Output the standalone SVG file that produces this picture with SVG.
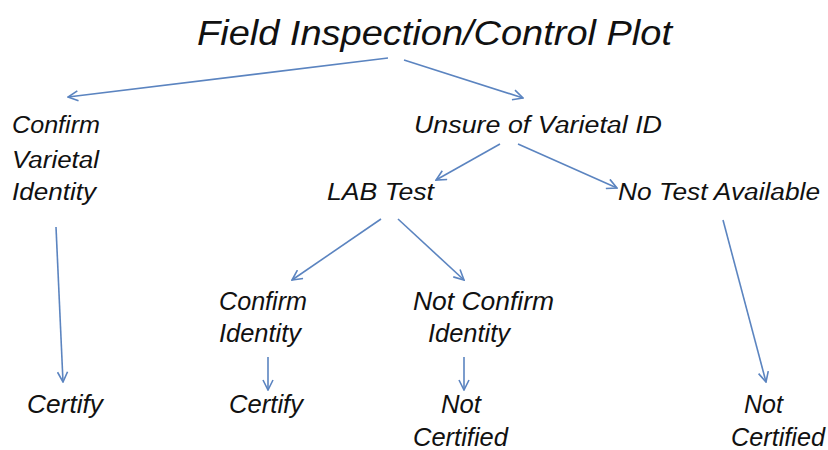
<svg xmlns="http://www.w3.org/2000/svg" width="828" height="450" viewBox="0 0 828 450">
<style>
text{font-family:"Liberation Sans",Arial,sans-serif;font-style:italic;fill:#111;font-size:23px}
.t{font-size:35px}
.s{font-size:25px}
.c line{stroke:#5b84c0;stroke-width:1.6;fill:none;marker-end:url(#ah)}
</style>
<defs>
<marker id="ah" viewBox="0 0 12 12" refX="11" refY="6" markerWidth="12" markerHeight="12" markerUnits="userSpaceOnUse" orient="auto">
<path d="M1,1 L11,6 L1,11" fill="none" stroke="#5b84c0" stroke-width="1.6"/>
</marker>
</defs>
<rect width="828" height="450" fill="#fff"/>
<g id="title"><text class="t" x="197" y="45" textLength="475" lengthAdjust="spacingAndGlyphs">Field Inspection/Control Plot</text></g>
<g id="confirmVarietal">
<text x="12" y="133" textLength="88" lengthAdjust="spacingAndGlyphs">Confirm</text>
<text x="12" y="168" textLength="87" lengthAdjust="spacingAndGlyphs">Varietal</text>
<text x="12" y="200" textLength="84" lengthAdjust="spacingAndGlyphs">Identity</text>
</g>
<g id="unsure"><text x="414" y="133" textLength="248" lengthAdjust="spacingAndGlyphs">Unsure of Varietal ID</text></g>
<g id="labTest"><text x="327" y="200" textLength="107" lengthAdjust="spacingAndGlyphs">LAB Test</text></g>
<g id="noTest"><text x="618" y="200" textLength="202" lengthAdjust="spacingAndGlyphs">No Test Available</text></g>
<g id="confirmIdentity">
<text class="s" x="219" y="310" textLength="88" lengthAdjust="spacingAndGlyphs">Confirm</text>
<text class="s" x="219" y="342" textLength="82" lengthAdjust="spacingAndGlyphs">Identity</text>
</g>
<g id="notConfirmIdentity">
<text class="s" x="413" y="310" textLength="141" lengthAdjust="spacingAndGlyphs">Not Confirm</text>
<text class="s" x="428" y="342" textLength="82" lengthAdjust="spacingAndGlyphs">Identity</text>
</g>
<g id="certify1"><text class="s" x="27" y="413" textLength="76" lengthAdjust="spacingAndGlyphs">Certify</text></g>
<g id="certify2"><text class="s" x="229" y="413" textLength="74" lengthAdjust="spacingAndGlyphs">Certify</text></g>
<g id="notCertified1">
<text class="s" x="441" y="413" textLength="40" lengthAdjust="spacingAndGlyphs">Not</text>
<text class="s" x="413" y="446" textLength="95" lengthAdjust="spacingAndGlyphs">Certified</text>
</g>
<g id="notCertified2">
<text class="s" x="744" y="413" textLength="39" lengthAdjust="spacingAndGlyphs">Not</text>
<text class="s" x="731" y="446" textLength="94" lengthAdjust="spacingAndGlyphs">Certified</text>
</g>
<g id="connectors" class="c">
<line x1="388" y1="58" x2="68" y2="97"/>
<line x1="404" y1="60" x2="523" y2="98"/>
<line x1="500" y1="144" x2="436" y2="180"/>
<line x1="518" y1="144" x2="617" y2="188"/>
<line x1="56" y1="227" x2="63" y2="382"/>
<line x1="381" y1="219" x2="292" y2="280"/>
<line x1="398" y1="219" x2="464" y2="280"/>
<line x1="723" y1="220" x2="766" y2="382"/>
<line x1="268" y1="357" x2="268" y2="390"/>
<line x1="464" y1="357" x2="464" y2="390"/>
</g>
</svg>
